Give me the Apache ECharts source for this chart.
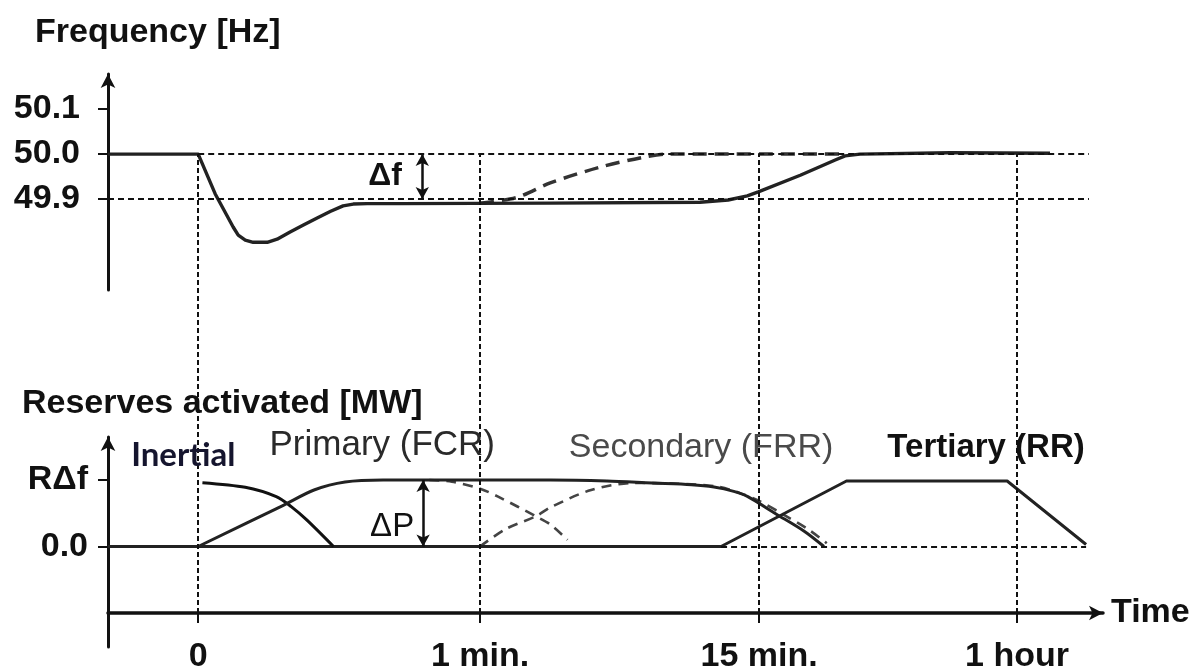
<!DOCTYPE html>
<html>
<head>
<meta charset="utf-8">
<script src="https://cdn.jsdelivr.net/npm/echarts@6/dist/echarts.min.js"></script>
<style>
html,body{margin:0;padding:0;background:#fff;}
#chart{width:1199px;height:672px;}
</style>
</head>
<body>
<div id="chart"></div>
<script>
// Schematic time units: 0 = disturbance, 10 = 1 min, 19.9 = 15 min, 29.05 = 1 hour
const timeTicks = [0, 10, 19.9, 29.05];
const timeLabels = ['0', '1 min.', '15 min.', '1 hour'];
const freqTicks = [49.9, 50.0, 50.1];
const reserveTicks = [0, 1];
const reserveTickLabels = ['0.0', 'RΔf'];

// Frequency [Hz]
const freqActual = [[-3.2,50.0],[0,50.0],[0.6,49.912],[1.24,49.838],[1.42,49.82],[1.67,49.809],[1.95,49.804],[2.45,49.804],[2.8,49.811],[3.26,49.827],[3.75,49.843],[4.22,49.858],[4.7,49.873],[5.14,49.885],[5.5,49.889],[6.0,49.89],[7.17,49.89],[12.5,49.891],[17.8,49.893],[18.8,49.898],[19.48,49.907],[19.87,49.916],[21.36,49.953],[22.6,49.987],[22.95,49.996],[23.48,50.0],[26.68,50.003],[30.22,50.002]];
const freqWithSecondary = [[10,49.891],[11.32,49.904],[12.49,49.936],[14.26,49.971],[15.79,49.993],[16.64,50.0],[22.88,50.0]];

// Reserves activated (relative to RΔf)
const inertial = [[0.15,0.96],[1.67,0.89],[2.77,0.75],[3.3,0.6],[3.85,0.4],[4.8,0]];
const primaryTotal = [[0,0],[3.02,0.62],[4.11,0.85],[5.21,0.97],[6.56,1.0],[12.5,1.0],[14.5,0.985],[16.1,0.955],[17.5,0.93],[18.3,0.895],[19.0,0.83],[19.5,0.75],[20.5,0.49],[21.5,0.23],[22.2,0]];
const primaryDecay = [[8.2,1.0],[9.0,0.975],[10.0,0.87],[10.64,0.75],[12.0,0.45],[12.5,0.33],[13.1,0.1]];
const secondary = [[10,0],[10.9,0.26],[12.0,0.46],[12.5,0.59],[13.94,0.85],[15.43,0.955],[17.0,0.945],[18.5,0.895],[19.83,0.7],[20.68,0.5],[21.6,0.27],[22.3,0.05]];
const tertiary = [[-3.2,0],[18.55,0],[23.0,0.985],[28.7,0.985],[31.5,0.03]];

const X_MIN = -3.2, X_MAX = 32.1;
const FONT = 'Liberation Sans, Arial, sans-serif';
const INK = '#111';

function timeLabel(v) {
  let best = 0, d = Infinity;
  timeTicks.forEach((t, i) => { if (Math.abs(t - v) < d) { d = Math.abs(t - v); best = i; } });
  return timeLabels[best];
}

const tickFont = {fontFamily: FONT, fontWeight: 'bold', fontSize: 34, color: INK};
const refDash = {color: INK, width: 2, type: [6, 4]};

function textMark(name, coord, style) {
  return {name: name, coord: coord, label: Object.assign({show: true, position: 'inside', formatter: '{b}', fontFamily: FONT}, style)};
}

const chart = echarts.init(document.getElementById('chart'), null, {renderer: 'canvas'});
chart.setOption({
  animation: false,
  backgroundColor: '#fff',
  title: [
    {text: 'Frequency [Hz]', left: 35, top: 16, padding: 0,
     textStyle: {fontFamily: FONT, fontWeight: 'bold', fontSize: 34, color: INK}},
    {text: 'Reserves activated [MW]', left: 22, top: 387, padding: 0,
     textStyle: {fontFamily: FONT, fontWeight: 'bold', fontSize: 34, color: INK}}
  ],
  grid: [
    {left: 108, right: 96, top: 74, height: 216, containLabel: false, outerBoundsMode: 'none'},
    {left: 108, right: 96, top: 437, height: 210, containLabel: false, outerBoundsMode: 'none'},
    {left: 108, right: 96, top: 154, bottom: 59, containLabel: false, outerBoundsMode: 'none'}
  ],
  xAxis: [
    {type: 'value', gridIndex: 0, min: X_MIN, max: X_MAX, show: false},
    {type: 'value', gridIndex: 1, min: X_MIN, max: X_MAX, show: false},
    {type: 'value', gridIndex: 2, min: X_MIN, max: X_MAX,
     axisLine: {show: true, onZero: false, symbol: ['none', 'arrow'], symbolSize: [11, 14], lineStyle: {color: INK, width: 3.5}},
     axisTick: {show: true, customValues: timeTicks, length: 10, lineStyle: {color: INK, width: 2}},
     axisLabel: Object.assign({customValues: timeTicks, formatter: timeLabel, margin: 27}, tickFont),
     splitLine: {show: false},
     name: 'Time', nameLocation: 'end', nameGap: 8,
     nameTextStyle: {fontFamily: FONT, fontWeight: 'bold', fontSize: 34, color: INK}}
  ],
  yAxis: [
    {type: 'value', gridIndex: 0, min: 49.698, max: 50.178,
     axisLine: {show: true, onZero: false, symbol: ['none', 'arrow'], symbolSize: [11, 14], lineStyle: {color: INK, width: 3}},
     axisTick: {show: true, customValues: freqTicks, length: 10, lineStyle: {color: INK, width: 2}},
     axisLabel: Object.assign({customValues: freqTicks, formatter: v => v.toFixed(1), margin: 28}, tickFont),
     splitLine: {show: false}},
    {type: 'value', gridIndex: 1, min: -1.511, max: 1.647,
     axisLine: {show: true, onZero: false, symbol: ['none', 'arrow'], symbolSize: [11, 14], lineStyle: {color: INK, width: 3}},
     axisTick: {show: true, customValues: reserveTicks, length: 10, lineStyle: {color: INK, width: 2}},
     axisLabel: Object.assign({customValues: reserveTicks, formatter: v => reserveTickLabels[reserveTicks.indexOf(v)], margin: 20}, tickFont),
     splitLine: {show: false}},
    {type: 'value', gridIndex: 2, min: 0, max: 1, show: false}
  ],
  series: [
    // vertical time guides
    {type: 'line', xAxisIndex: 2, yAxisIndex: 2, data: [], silent: true,
     markLine: {silent: true, symbol: 'none', label: {show: false},
       lineStyle: {color: INK, width: 2, type: [5, 3]},
       data: timeTicks.map(t => ({xAxis: t}))}},
    // frequency reference lines + Δf arrow + text
    {type: 'line', xAxisIndex: 0, yAxisIndex: 0, data: [], silent: true, z: 1,
     markLine: {silent: true, symbol: 'none', label: {show: false}, lineStyle: refDash,
       data: [
         [{coord: [0, 50.0]}, {coord: [31.6, 50.0]}],
         [{coord: [X_MIN, 49.9]}, {coord: [31.6, 49.9]}],
         [{coord: [7.95, 50.0], symbol: 'arrow', symbolSize: [10, 12], lineStyle: {type: 'solid', width: 2.5}},
          {coord: [7.95, 49.9], symbol: 'arrow', symbolSize: [10, 12]}]
       ]},
     markPoint: {silent: true, symbol: 'circle', symbolSize: 0,
       data: [textMark('Δf', [6.63, 49.951], {fontSize: 32, fontWeight: 'bold', color: INK})]}},
    {name: 'Frequency', type: 'line', xAxisIndex: 0, yAxisIndex: 0, data: freqActual,
     showSymbol: false, smooth: false, lineStyle: {color: '#222', width: 3.4, join: 'round'}, z: 3},
    {name: 'Frequency with secondary', type: 'line', xAxisIndex: 0, yAxisIndex: 0, data: freqWithSecondary,
     showSymbol: false, smooth: 0.3, lineStyle: {color: '#333', width: 3.5, type: [14, 8]}, z: 2},
    // reserves reference + ΔP arrow + texts
    {type: 'line', xAxisIndex: 1, yAxisIndex: 1, data: [], silent: true, z: 1,
     markLine: {silent: true, symbol: 'none', label: {show: false}, lineStyle: refDash,
       data: [
         [{coord: [18.55, 0]}, {coord: [31.5, 0]}],
         [{coord: [7.98, 0], symbol: 'arrow', symbolSize: [10, 12], lineStyle: {type: 'solid', width: 2.5}},
          {coord: [7.98, 1], symbol: 'arrow', symbolSize: [10, 12]}]
       ]},
     markPoint: {silent: true, symbol: 'circle', symbolSize: 0,
       data: [
         textMark('ΔP', [6.88, 0.29], {fontSize: 33, color: INK}),
         textMark('Inertial', [-0.53, 1.376], {fontSize: 33, fontWeight: 'bold', fontFamily: 'Lato, sans-serif', color: '#15152e'}),
         textMark('Primary (FCR)', [6.53, 1.526], {fontSize: 35, color: '#2a2a2a'}),
         textMark('Secondary (FRR)', [17.84, 1.48], {fontSize: 34, color: '#4a4a4a'}),
         textMark('Tertiary (RR)', [27.95, 1.48], {fontSize: 33, fontWeight: 'bold', color: '#111'})
       ]}},
    {name: 'Tertiary (RR)', type: 'line', xAxisIndex: 1, yAxisIndex: 1, data: tertiary,
     showSymbol: false, lineStyle: {color: '#222', width: 3}, z: 3},
    {name: 'Inertial', type: 'line', xAxisIndex: 1, yAxisIndex: 1, data: inertial,
     showSymbol: false, smooth: 0.3, lineStyle: {color: '#111', width: 3}, z: 3},
    {name: 'Primary + Secondary', type: 'line', xAxisIndex: 1, yAxisIndex: 1, data: primaryTotal,
     showSymbol: false, smooth: 0.3, lineStyle: {color: '#222', width: 3}, z: 3},
    {name: 'Primary (FCR)', type: 'line', xAxisIndex: 1, yAxisIndex: 1, data: primaryDecay,
     showSymbol: false, smooth: 0.3, lineStyle: {color: '#444', width: 2.6, type: [10, 7]}, z: 2},
    {name: 'Secondary (FRR)', type: 'line', xAxisIndex: 1, yAxisIndex: 1, data: secondary,
     showSymbol: false, smooth: 0.3, lineStyle: {color: '#444', width: 2.6, type: [10, 7]}, z: 2}
  ]
});
</script>
</body>
</html>
